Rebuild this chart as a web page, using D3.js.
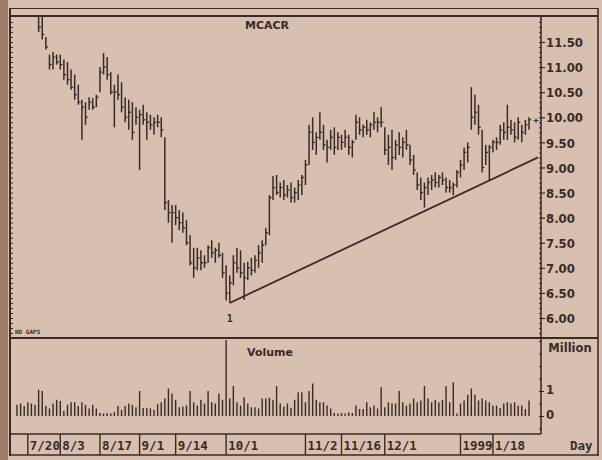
<!DOCTYPE html>
<html>
<head>
<meta charset="utf-8">
<style>
  body { margin: 0; background: #d7c0b0; }
  text { fill: #3a2a26; font-weight: bold; }
  .lab { font-family: "DejaVu Sans Condensed", "DejaVu Sans", sans-serif; font-size: 13px; }
  .mono { font-family: "DejaVu Sans Mono", monospace; font-size: 12.5px; }
  .ttl { font-family: "DejaVu Sans", sans-serif; font-size: 11px; }
</style>
<script src="https://d3js.org/d3.v7.min.js"></script>
</head>
<body>
<script>
// bar data (one entry per session)
var high = [12.6,12.55,12.5,12.45,12.35,12.25,12.1,12.0,11.6,11.25,11.3,11.25,11.25,11.15,11.1,10.95,10.85,10.65,10.35,10.3,
  10.4,10.38,10.45,11.0,11.28,11.2,10.9,10.65,10.85,10.7,10.4,10.35,10.3,10.2,10.15,10.25,10.1,10.05,10.0,10.05,
  10.0,9.6,8.35,8.25,8.25,8.15,8.1,7.95,7.65,7.4,7.4,7.35,7.25,7.45,7.55,7.4,7.5,7.3,7.05,6.85,
  7.25,7.4,7.35,7.1,7.12,7.2,7.25,7.45,7.55,7.8,8.45,8.83,8.85,8.7,8.75,8.65,8.7,8.6,8.75,8.85,
  9.15,9.85,10.0,9.7,10.1,9.85,9.55,9.75,9.8,9.7,9.65,9.75,9.65,9.55,10.05,10.0,9.85,9.95,9.9,10.1,
  10.0,10.2,9.8,9.65,9.75,9.55,9.7,9.6,9.75,9.45,9.25,8.9,8.8,8.7,8.8,8.85,8.9,8.85,8.9,8.8,
  8.75,8.7,8.95,9.15,9.4,9.5,10.6,10.45,10.25,9.75,9.45,9.45,9.55,9.6,9.85,9.9,10.25,9.95,9.9,10.0,
  9.85,9.95,10.0];
var low = [12.2,12.15,12.15,12.1,12.05,12.0,11.7,11.55,11.35,10.95,10.95,11.05,10.95,10.75,10.65,10.55,10.35,10.25,9.55,9.85,
  10.15,10.15,10.2,10.5,10.85,10.75,10.45,9.8,10.35,10.1,9.9,9.75,9.55,9.85,8.95,9.85,9.55,9.75,9.65,9.8,
  9.6,8.15,7.9,7.5,7.85,7.75,7.7,7.45,7.05,6.8,6.95,6.95,7.0,7.1,7.2,7.1,7.2,6.8,6.35,6.3,
  6.65,6.9,6.8,6.36,6.75,6.85,6.9,7.0,7.1,7.45,7.65,8.35,8.45,8.4,8.35,8.4,8.3,8.3,8.35,8.45,
  8.65,9.05,9.35,9.25,9.55,9.35,9.1,9.35,9.25,9.35,9.35,9.4,9.25,9.2,9.55,9.65,9.6,9.65,9.6,9.75,
  9.7,9.8,9.25,9.05,8.95,9.15,9.25,9.2,9.35,9.05,8.85,8.55,8.35,8.2,8.45,8.55,8.6,8.6,8.65,8.5,
  8.5,8.45,8.6,8.8,8.95,9.1,9.75,9.85,9.65,8.9,9.05,8.75,9.3,9.35,9.45,9.55,9.55,9.65,9.5,9.55,
  9.5,9.65,9.75];
var close = [12.3,12.3,12.25,12.2,12.1,12.05,11.8,11.65,11.4,11.05,11.2,11.1,11.05,10.85,10.75,10.6,10.45,10.3,10.2,10.0,
  10.3,10.2,10.4,10.9,11.0,10.85,10.5,10.5,10.45,10.2,10.0,10.1,9.7,10.0,10.05,9.95,9.9,9.85,9.9,9.9,
  9.75,8.3,8.1,8.1,8.0,7.9,7.8,7.5,7.1,7.0,7.2,7.1,7.1,7.4,7.3,7.35,7.25,6.9,6.5,6.7,
  7.1,7.0,6.9,6.8,7.0,6.95,7.15,7.3,7.45,7.7,8.4,8.6,8.5,8.6,8.45,8.55,8.4,8.5,8.65,8.8,
  9.05,9.7,9.5,9.6,9.7,9.45,9.4,9.6,9.4,9.6,9.5,9.6,9.4,9.5,9.9,9.75,9.8,9.75,9.85,9.9,
  9.9,9.9,9.35,9.4,9.2,9.45,9.4,9.5,9.45,9.15,8.95,8.65,8.5,8.6,8.7,8.75,8.7,8.8,8.75,8.6,
  8.6,8.65,8.9,9.05,9.3,9.4,10.0,10.1,9.8,9.0,9.3,9.4,9.5,9.5,9.75,9.7,9.8,9.75,9.6,9.9,
  9.7,9.85,9.95];
// volume in millions
var volume = [0.45,0.5,0.4,0.55,0.5,0.45,1.05,1.0,0.4,0.3,0.5,0.65,0.6,0.2,0.45,0.55,0.55,0.4,0.55,0.45,
  0.3,0.45,0.3,0.12,0.1,0.12,0.1,0.15,0.4,0.25,0.4,0.5,0.45,0.35,1.0,0.32,0.32,0.3,0.25,0.47,
  0.55,0.7,1.1,0.9,0.65,0.35,0.38,0.42,1.0,0.55,0.42,0.65,0.5,1.0,0.55,0.5,0.9,0.65,3.05,0.7,
  1.2,0.55,0.42,0.75,0.5,0.35,0.35,0.3,0.7,0.7,0.73,0.65,1.2,0.5,0.38,0.5,0.33,0.65,0.95,0.95,
  0.55,1.0,1.3,0.65,0.55,0.55,0.42,0.3,0.12,0.1,0.12,0.1,0.15,0.12,0.42,0.28,0.28,0.55,0.35,0.42,
  0.3,1.15,0.35,0.55,0.5,0.5,1.0,0.55,0.42,0.5,0.7,0.55,0.62,1.2,0.7,0.55,0.65,0.55,0.65,1.2,
  0.55,1.35,0.1,0.5,0.62,0.85,1.1,0.85,0.62,0.7,0.62,0.55,0.42,0.42,0.32,0.5,0.55,0.5,0.55,0.42,
  0.42,0.28,0.62];

var dateIndex = [3, 12, 23, 34, 44, 58, 80, 90, 102, 123, 132];
var dateLabels = ['7/20', '8/3', '8/17', '9/1', '9/14', '10/1', '11/2', '11/16', '12/1', '1999', '1/18'];
var priceTicks = [6, 6.5, 7, 7.5, 8, 8.5, 9, 9.5, 10, 10.5, 11, 11.5];
var volumeTicks = [0, 1];
var trendPoints = [[59, 6.3], [144.5, 9.2]];
var lowMarkIndex = 59;

var ink = '#3a2a26';
var width = 602, height = 460;
var axisX = 541;

var svg = d3.select('body').append('svg').attr('width', width).attr('height', height);
svg.append('rect').attr('width', width).attr('height', height).attr('fill', '#d7c0b0');
svg.append('rect').attr('x', 0).attr('y', 0).attr('width', 8).attr('height', height).attr('fill', '#a07d68');

var x = d3.scaleLinear().domain([0, high.length - 1]).range([17, 529]);
var y = d3.scaleLinear().domain([6, 11.5]).range([318, 42]);
var yv = d3.scaleLinear().domain([0, 1]).range([416, 391]);

svg.append('clipPath').attr('id', 'pclip')
  .append('rect').attr('x', 11).attr('y', 17).attr('width', axisX - 11).attr('height', 320);

// frame
function hline(y0, x0, x1, w) {
  svg.append('line').attr('x1', x0).attr('x2', x1).attr('y1', y0).attr('y2', y0)
    .attr('stroke', ink).attr('stroke-width', w);
}
function vline(x0, y0, y1, w) {
  svg.append('line').attr('x1', x0).attr('x2', x0).attr('y1', y0).attr('y2', y1)
    .attr('stroke', ink).attr('stroke-width', w);
}
hline(8.5, 9, 598, 1.2);
hline(16, 9, 598, 2);
hline(338, 9, 598, 2);
hline(434, 9, axisX, 1.6);
hline(455, 9, 598, 1.6);
vline(10, 8, 456, 2);
vline(598, 8, 456, 1.6);
vline(axisX, 16, 434, 1.6);

// price bars
var pg = svg.append('g').attr('clip-path', 'url(#pclip)');
pg.selectAll('line.hl').data(high).enter().append('line')
  .attr('x1', function(d, i) { return x(i); })
  .attr('x2', function(d, i) { return x(i); })
  .attr('y1', function(d) { return y(d); })
  .attr('y2', function(d, i) { return y(low[i]); })
  .attr('stroke', ink).attr('stroke-width', 1.5);
pg.selectAll('line.cl').data(close).enter().append('line')
  .attr('x1', function(d, i) { return x(i); })
  .attr('x2', function(d, i) { return x(i) + 2.2; })
  .attr('y1', function(d) { return y(d); })
  .attr('y2', function(d) { return y(d); })
  .attr('stroke', ink).attr('stroke-width', 1.3);

// trend line
pg.append('line')
  .attr('x1', x(trendPoints[0][0])).attr('y1', y(trendPoints[0][1]))
  .attr('x2', x(trendPoints[1][0])).attr('y2', y(trendPoints[1][1]))
  .attr('stroke', ink).attr('stroke-width', 1.8);

svg.append('text').attr('class', 'mono').style('font-size', '10px')
  .attr('x', x(lowMarkIndex)).attr('y', 322).attr('text-anchor', 'middle').text('1');

// last price marker
var lastY = y(close[close.length - 1]);
svg.append('text').attr('class', 'mono').style('font-size', '9px')
  .attr('x', 536).attr('y', lastY + 3).attr('text-anchor', 'middle').text('+');

// price axis
var minor = d3.range(5.6, 12.05, 0.1).filter(function(v) { return y(v) > 17 && y(v) < 337; });
svg.append('g').attr('transform', 'translate(' + axisX + ',0)')
  .call(d3.axisLeft(y).tickValues(minor).tickSize(2).tickFormat(''))
  .call(function(g) { g.select('.domain').remove(); g.selectAll('line').attr('stroke', ink); });
svg.append('g').attr('transform', 'translate(11,0)')
  .call(d3.axisRight(y).tickValues(minor).tickSize(2).tickFormat(''))
  .call(function(g) { g.select('.domain').remove(); g.selectAll('line').attr('stroke', ink); });
svg.append('g').attr('transform', 'translate(' + axisX + ',0)')
  .call(d3.axisRight(y).tickValues(priceTicks).tickSize(4).tickPadding(1).tickFormat(d3.format('.2f')))
  .call(function(g) {
    g.select('.domain').remove();
    g.selectAll('line').attr('stroke', ink).attr('stroke-width', 1.2);
    g.selectAll('text').attr('class', 'lab').attr('fill', ink).attr('dy', '0.36em');
  });

svg.append('text').attr('class', 'ttl').attr('x', 267).attr('y', 29)
  .attr('text-anchor', 'middle').text('MCACR');
svg.append('text').attr('class', 'mono').style('font-size', '6px')
  .attr('x', 15).attr('y', 334).text('NO GAPS');

// volume
svg.selectAll('line.vol').data(volume).enter().append('line')
  .attr('x1', function(d, i) { return x(i); })
  .attr('x2', function(d, i) { return x(i); })
  .attr('y1', yv(0))
  .attr('y2', function(d) { return Math.max(yv(d), 340); })
  .attr('stroke', ink).attr('stroke-width', 1.4);

svg.append('g').attr('transform', 'translate(' + axisX + ',0)')
  .call(d3.axisLeft(yv).tickValues(d3.range(-0.5, 3.01, 0.5)).tickSize(2).tickFormat(''))
  .call(function(g) { g.select('.domain').remove(); g.selectAll('line').attr('stroke', ink); });
svg.append('g').attr('transform', 'translate(' + axisX + ',0)')
  .call(d3.axisRight(yv).tickValues(volumeTicks).tickSize(3).tickPadding(2).tickFormat(d3.format('d')))
  .call(function(g) {
    g.select('.domain').remove();
    g.selectAll('line').attr('stroke', ink);
    g.selectAll('text').attr('class', 'lab').attr('fill', ink).attr('dy', '0.2em');
  });

svg.append('text').attr('class', 'ttl').attr('x', 270).attr('y', 356)
  .attr('text-anchor', 'middle').text('Volume');
svg.append('text').attr('class', 'ttl').style('font-size', '11.5px')
  .attr('x', 570).attr('y', 352).attr('text-anchor', 'middle').text('Million');

// date row
var dg = svg.append('g');
dg.selectAll('line').data(dateIndex).enter().append('line')
  .attr('x1', function(d) { return x(d); }).attr('x2', function(d) { return x(d); })
  .attr('y1', 434).attr('y2', 455)
  .attr('stroke', ink).attr('stroke-width', 1.4);
dg.selectAll('text').data(dateIndex).enter().append('text')
  .attr('class', 'mono')
  .attr('x', function(d) { return x(d) + 2; })
  .attr('y', 450)
  .text(function(d, i) { return dateLabels[i]; });
svg.append('text').attr('class', 'mono').attr('x', 570).attr('y', 450).text('Day');
</script>
</body>
</html>
